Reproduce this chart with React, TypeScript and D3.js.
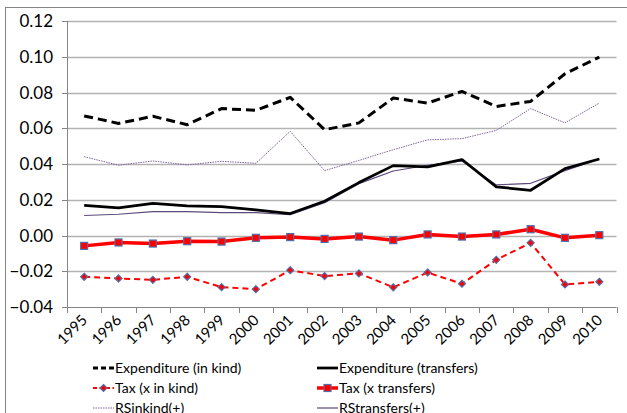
import React from "react";
import * as d3 from "d3";

const years = ["1995","1996","1997","1998","1999","2000","2001","2002","2003","2004","2005","2006","2007","2008","2009","2010"];
const expInKind = [0.0669,0.0627,0.0667,0.0620,0.0710,0.0700,0.0773,0.0592,0.0630,0.0769,0.0741,0.0806,0.0722,0.0750,0.0905,0.0998];
const expTransfers = [0.0169,0.0155,0.0180,0.0166,0.0162,0.0143,0.0123,0.0192,0.0296,0.0391,0.0384,0.0425,0.0272,0.0253,0.0374,0.0428];
const taxInKind = [-0.0231,-0.0240,-0.0248,-0.0231,-0.0289,-0.0300,-0.0194,-0.0227,-0.0212,-0.0290,-0.0207,-0.0270,-0.0136,-0.0041,-0.0274,-0.0259];
const taxTransfers = [-0.0058,-0.0039,-0.0045,-0.0032,-0.0034,-0.0013,-0.0009,-0.0019,-0.0006,-0.0026,0.0006,-0.0006,0.0006,0.0035,-0.0013,0.0002];
const rsInKind = [0.0441,0.0393,0.0417,0.0395,0.0415,0.0404,0.0583,0.0363,0.0420,0.0480,0.0535,0.0542,0.0588,0.0710,0.0630,0.0741];
const rsTransfers = [0.0112,0.0119,0.0134,0.0134,0.0128,0.0128,0.0116,0.0183,0.0290,0.0361,0.0393,0.0417,0.0283,0.0292,0.0363,0.0428];
const yTicks = [-0.04,-0.02,0,0.02,0.04,0.06,0.08,0.10,0.12];

const FONT = "Lato, 'Open Sans', sans-serif";

type Series = {
  name: string;
  values: number[];
  color: string;
  width: number;
  dash?: string;
  marker?: "square" | "diamond";
};

const series: Series[] = [
  { name: "RSinkind(+)", values: rsInKind, color: "#8064A2", width: 1, dash: "1.5,1" },
  { name: "RStransfers(+)", values: rsTransfers, color: "#5b4a7b", width: 1.2 },
  { name: "Expenditure (in kind)", values: expInKind, color: "#000000", width: 3, dash: "9,5" },
  { name: "Expenditure (transfers)", values: expTransfers, color: "#000000", width: 2.75 },
  { name: "Tax (x in kind)", values: taxInKind, color: "#FF0000", width: 2, dash: "6,4", marker: "diamond" },
  { name: "Tax (x transfers)", values: taxTransfers, color: "#FF0000", width: 3.5, marker: "square" },
];

const legendOrder = [
  "Expenditure (in kind)", "Expenditure (transfers)",
  "Tax (x in kind)", "Tax (x transfers)",
  "RSinkind(+)", "RStransfers(+)",
];

function Marker({ kind, x, y }: { kind?: string; x: number; y: number }) {
  if (kind === "square") {
    return <rect x={x - 3.5} y={y - 3.5} width={7} height={7} fill="#FF0000" stroke="#4F6FA8" strokeWidth={1.2} />;
  }
  if (kind === "diamond") {
    const r = 3.5;
    return <path d={`M${x},${y - r}L${x + r},${y}L${x},${y + r}L${x - r},${y}Z`} fill="#FF0000" stroke="#4F6FA8" strokeWidth={1.2} />;
  }
  return null;
}

export default function App() {
  const W = 627, H = 413;
  const x = d3.scaleBand<string>().domain(years).range([67, 616.5]);
  const y = d3.scaleLinear().domain([-0.04, 0.12]).range([307, 21]);
  const cx = (yr: string) => (x(yr) as number) + x.bandwidth() / 2;
  const line = d3.line<number>().x((_, i) => cx(years[i])).y((v) => y(v));
  const boundaries = years.map((yr) => x(yr) as number).concat([616.5]);

  const legendPos = (i: number) => {
    const col = i % 2, row = Math.floor(i / 2);
    return { sx: col === 0 ? 93 : 317, ty: 368 + row * 20 };
  };

  return (
    <svg width={W} height={H} style={{ position: "fixed", left: 0, top: 0, background: "#fff" }} fontFamily={FONT}>
      <rect x={0} y={0} width={W} height={H} fill="#fff" />
      <rect x={5.5} y={7.5} width={700} height={500} fill="none" stroke="#868686" strokeWidth={1} />
      {yTicks.filter((t) => t !== -0.04).map((t) => (
        <line key={t} x1={67} x2={616.5} y1={Math.round(y(t)) + 0.5} y2={Math.round(y(t)) + 0.5} stroke="#b3b3b3" strokeWidth={1.3} />
      ))}
      <line x1={67.5} x2={67.5} y1={21} y2={307} stroke="#868686" strokeWidth={1} />
      <line x1={67} x2={616.5} y1={307.5} y2={307.5} stroke="#868686" strokeWidth={1} />
      {yTicks.map((t) => (
        <g key={"yt" + t}>
          <line x1={62} x2={67} y1={Math.round(y(t)) + 0.5} y2={Math.round(y(t)) + 0.5} stroke="#868686" />
          <text x={53} y={y(t)} dy="0.36em" textAnchor="end" fontSize={17} fill="#000">{d3.format(".2f")(t)}</text>
        </g>
      ))}
      {boundaries.map((b, i) => (
        <line key={"xt" + i} x1={Math.round(b) + 0.5} x2={Math.round(b) + 0.5} y1={307} y2={313} stroke="#868686" />
      ))}
      {years.map((yr) => (
        <text key={"xl" + yr} transform={`translate(${cx(yr) + 4},${321}) rotate(-45)`} textAnchor="end" fontSize={15} fill="#000">{yr}</text>
      ))}
      {series.map((s) => (
        <g key={s.name}>
          <path d={line(s.values) || ""} fill="none" stroke={s.color} strokeWidth={s.width} strokeDasharray={s.dash} strokeLinejoin="round" />
          {s.marker && s.values.map((v, i) => <Marker key={i} kind={s.marker} x={cx(years[i])} y={y(v)} />)}
        </g>
      ))}
      {legendOrder.map((name, i) => {
        const s = series.find((q) => q.name === name)!;
        const { sx, ty } = legendPos(i);
        return (
          <g key={"lg" + name}>
            <line x1={sx} x2={sx + 21} y1={ty} y2={ty} stroke={s.color} strokeWidth={s.width} strokeDasharray={s.dash ? (s.marker ? "4,2.5" : s.width > 2 ? "5,3" : s.dash) : undefined} />
            {s.marker && <Marker kind={s.marker} x={sx + 10.5} y={ty} />}
            <text x={sx + 22} y={ty} dy="0.35em" fontSize={14} fill="#000">{name}</text>
          </g>
        );
      })}
    </svg>
  );
}
